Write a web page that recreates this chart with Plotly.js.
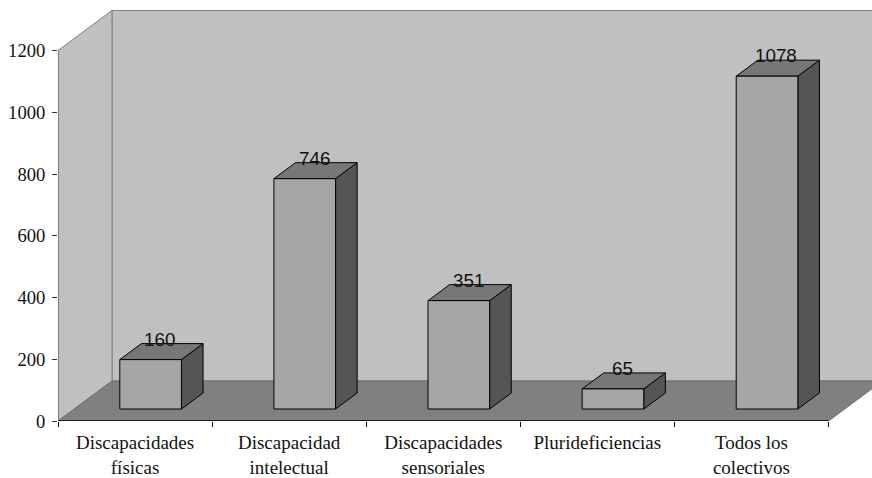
<!DOCTYPE html>
<html><head><meta charset="utf-8">
<script src="https://cdn.plot.ly/plotly-3.0.1.min.js"></script>
<style>html,body{margin:0;padding:0;background:#fff;overflow:hidden}</style>
</head><body><div id="chart" style="width:872px;height:478px"></div>
<script>
const categories = ["Discapacidades<br>físicas","Discapacidad<br>intelectual","Discapacidades<br>sensoriales","Plurideficiencias","Todos los<br>colectivos"];
const values = [160,746,351,65,1078];
const yTicks = [0,200,400,600,800,1000,1200];

const pxPerCat = 154.1, pxPerVal = 0.30875;
const depthX = 54/pxPerCat, depthY = 40/pxPerVal;
const yMax = 1200;
const barW = 0.4, d0 = 0.3, d1 = 0.7, barNudge = -0.004;
const proj = (c,v,d)=>[c+d*depthX, v+d*depthY];

const traces = [];
function poly(pts, fill, line, w){
  const p = pts.concat([pts[0]]);
  traces.push({type:'scatter',mode:'lines',x:p.map(q=>q[0]),y:p.map(q=>q[1]),
    fill:'toself',fillcolor:fill,line:{color:line,width:w||1},hoverinfo:'skip',showlegend:false});
}
const n = values.length;
poly([proj(0,0,1),proj(n,0,1),proj(n,yMax,1),proj(0,yMax,1)],'#c0c0c0','#808080');
poly([proj(0,0,0),proj(0,0,1),proj(0,yMax,1),proj(0,yMax,0)],'#c0c0c0','#808080');
poly([proj(0,0,0),proj(n,0,0),proj(n,0,1),proj(0,0,1)],'#808080','#6e6e6e');
const annotations = [];
values.forEach((v,i)=>{
  const c=i+0.5+barNudge, a=c-barW/2, b=c+barW/2;
  poly([proj(b,0,d0),proj(b,0,d1),proj(b,v,d1),proj(b,v,d0)],'#555555','#000000');
  poly([proj(a,v,d0),proj(b,v,d0),proj(b,v,d1),proj(a,v,d1)],'#777777','#000000');
  poly([proj(a,0,d0),proj(b,0,d0),proj(b,v,d0),proj(a,v,d0)],'#a6a6a6','#000000');
  annotations.push({x:proj(c,v,0.5)[0],y:proj(c,v,d1)[1],text:String(v),showarrow:false,
    xanchor:'center',yanchor:'middle',xshift:-1.5,yshift:4.5,
    font:{family:'"Liberation Sans",Arial,sans-serif',size:18.8,color:'#111'}});
});
traces.push({type:'scatter',mode:'lines',x:[0,0],y:[0,yMax],line:{color:'#808080',width:2},cliponaxis:false,hoverinfo:'skip',showlegend:false});
traces.push({type:'scatter',mode:'lines',x:[0,n],y:[0,0],line:{color:'#000',width:1.5},cliponaxis:false,hoverinfo:'skip',showlegend:false});

const layout = {
  width:872,height:478,showlegend:false,paper_bgcolor:'#fff',plot_bgcolor:'#fff',
  margin:{l:58,r:0,t:0,b:57,pad:0},
  xaxis:{range:[0,814/pxPerCat],showgrid:false,zeroline:false,showline:false,
    tickmode:'array',tickvals:categories.map((_,i)=>i+0.5),ticktext:categories,ticks:'',tickangle:0,
    tickfont:{family:'"Liberation Serif","Times New Roman",serif',size:19,color:'#111'},
    minor:{tickmode:'array',tickvals:[0,1,2,3,4,5],ticks:'outside',ticklen:5,tickwidth:1,tickcolor:'#000',showgrid:false},
    ticklabelstandoff:8,fixedrange:true},
  yaxis:{range:[0,421/pxPerVal],showgrid:false,zeroline:false,showline:false,
    tickmode:'array',tickvals:yTicks,ticktext:yTicks.map(String),ticks:'outside',ticklen:5,tickwidth:1,tickcolor:'#333',
    tickfont:{family:'"Liberation Serif","Times New Roman",serif',size:18.6,color:'#111'},
    ticklabelstandoff:3,fixedrange:true},
  annotations
};
Plotly.newPlot('chart',traces,layout,{displayModeBar:false,staticPlot:true});
</script></body></html>
